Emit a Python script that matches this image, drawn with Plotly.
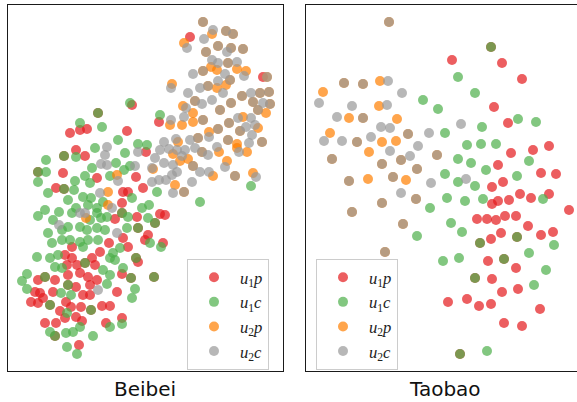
import plotly.graph_objects as go

# ---------------- data (embedding coordinates) ----------------
# Beibei panel
beibei_u1p = [(190,37),(263,77),(132,105),(70,133),(80,130),(87,129),(127,131),(159,122),(76,150),(85,156),
    (146,152),(63,173),(97,178),(136,177),(143,188),(56,188),(123,192),(128,192),(122,203),(115,219),(137,217),
    (160,214),(165,215),(145,240),(148,235),(163,243),(109,243),(123,238),(128,247),(72,247),(100,252),(65,255),
    (72,258),(92,258),(138,262),(67,265),(77,265),(95,265),(38,280),(55,280),(68,275),(80,273),(88,277),(97,280),
    (122,274),(35,292),(40,293),(31,302),(38,303),(43,298),(53,292),(66,302),(71,307),(81,307),(83,295),(90,295),
    (76,287),(90,285),(117,292),(60,311),(76,317),(82,321),(102,306),(110,306),(45,323),(56,323),(65,318),
    (106,323),(122,318),(79,345),
    (98,113),(64,156),(38,172),(64,189),(122,213),(155,223),(138,228),(136,258),(85,263),(45,277),(131,278),
    (154,277),(68,285),(50,305),(91,310),(55,336)]
beibei_u1c = [(130,103),(80,123),(102,127),(160,115),(118,140),(95,148),(138,144),(147,145),(76,157),(125,153),
    (46,160),(116,163),(130,166),(46,172),(92,168),(85,176),(110,176),(124,170),(38,182),(75,181),(90,183),
    (157,192),(74,190),(48,193),(132,198),(200,202),(251,186),(68,200),(83,197),(91,198),(103,202),(76,208),
    (88,205),(97,208),(45,210),(38,216),(59,212),(72,213),(97,213),(90,220),(101,218),(107,217),(128,217),
    (142,208),(149,205),(148,218),(53,220),(68,227),(80,227),(48,233),(62,230),(87,230),(97,228),(105,230),
    (127,228),(150,243),(161,247),(52,243),(62,240),(70,240),(80,242),(88,240),(98,240),(120,248),(83,247),
    (113,253),(37,257),(50,258),(58,255),(110,258),(115,260),(55,267),(62,268),(103,270),(123,268),(27,274),
    (22,281),(27,289),(110,275),(107,284),(135,289),(132,298),(61,293),(71,295),(67,313),(50,332),(66,333),
    (73,332),(80,327),(110,327),(122,324),(93,336),(67,347),(77,354),
    (98,113),(64,156),(38,172),(64,189),(122,213),(155,223),(138,228),(136,258),(85,263),(45,277),(131,278),
    (154,277),(68,285),(50,305),(91,310),(55,336)]
beibei_u2p = [(212,34),(184,43),(211,67),(217,70),(237,69),(246,71),(172,84),(217,88),(226,85),(183,106),
    (266,113),(193,113),(193,122),(170,125),(182,125),(243,117),(258,128),(209,132),(237,144),(178,142),
    (219,152),(237,148),(247,152),(173,154),(180,161),(188,159),(213,176),(227,161),(253,173),(175,185),
    (117,175),(108,192),(108,205),(86,218),(153,169),
    (203,22),(226,31),(233,34),(218,46),(231,48),(243,49),(206,52),(228,63),(203,71),(267,77),(230,80),
    (208,86),(242,96),(260,93),(269,92),(195,101),(220,110),(231,103),(253,102),(270,104),(258,110),(203,120),
    (229,123),(240,131),(218,129),(228,140),(262,142),(198,138),(202,152),(193,166),(235,176),(184,192)]
beibei_u2c = [(213,30),(187,48),(204,39),(227,52),(212,60),(237,62),(218,63),(193,74),(225,74),(244,76),
    (218,81),(171,88),(188,93),(200,88),(223,93),(251,93),(212,100),(186,108),(202,104),(263,103),(171,120),
    (184,117),(238,118),(251,118),(246,127),(255,125),(252,135),(209,137),(249,143),(190,140),(176,139),
    (164,142),(169,149),(177,150),(185,150),(195,148),(208,155),(217,147),(239,152),(160,150),(155,158),
    (182,156),(200,172),(209,172),(225,167),(256,177),(164,163),(173,165),(177,172),(152,168),(159,180),
    (166,180),(172,175),(173,193),(192,182),(152,182),(107,147),(105,155),(138,152),(101,164),(107,165),
    (135,166),(118,181),(100,193),(112,208),(80,213),(85,213),(59,225),(117,233),(98,290),
    (203,22),(226,31),(233,34),(218,46),(231,48),(243,49),(206,52),(228,63),(203,71),(267,77),(230,80),
    (208,86),(242,96),(260,93),(269,92),(195,101),(220,110),(231,103),(253,102),(270,104),(258,110),(203,120),
    (229,123),(240,131),(218,129),(228,140),(262,142),(198,138),(202,152),(193,166),(235,176),(184,192)]

# Taobao panel
taobao_u1p = [(452,60),(502,63),(522,79),(494,107),(508,123),(549,146),(533,150),(511,153),(498,165),(541,173),
    (556,174),(492,187),(503,182),(492,204),(498,201),(509,200),(520,194),(531,198),(549,194),(569,210),
    (477,219),(487,219),(496,220),(505,216),(516,216),(528,226),(491,239),(501,233),(541,235),(553,232),
    (488,261),(516,268),(492,279),(502,292),(518,289),(448,302),(467,299),(479,306),(491,304),(540,309),
    (504,323),(522,326),
    (491,47),(480,243),(517,237),(504,259),(475,278),(460,354)]
taobao_u1c = [(458,77),(475,93),(423,100),(438,109),(518,119),(536,122),(482,127),(445,133),(467,145),(481,144),
    (496,144),(458,159),(471,163),(529,161),(486,170),(517,176),(445,174),(458,182),(475,186),(430,208),
    (447,198),(465,201),(483,199),(543,199),(417,236),(451,223),(462,232),(554,245),(443,261),(459,258),
    (529,253),(546,270),(534,285),(487,351),
    (491,47),(480,243),(517,237),(504,259),(475,278),(460,354)]
taobao_u2p = [(380,81),(323,92),(379,106),(349,118),(397,119),(330,133),(382,142),(396,141),(369,152),(368,179),
    (406,180),
    (389,22),(344,83),(363,84),(363,118),(357,142),(408,134),(332,159),(382,164),(401,160),(437,155),(349,181),
    (393,177),(417,169),(416,199),(382,203),(352,212),(403,224),(385,252)]
taobao_u2c = [(388,81),(402,93),(319,103),(352,106),(387,105),(337,117),(381,127),(390,128),(461,124),(324,141),
    (342,141),(371,137),(429,133),(418,146),(390,151),(410,156),(431,183),(466,179),(401,193),
    (389,22),(344,83),(363,84),(363,118),(357,142),(408,134),(332,159),(382,164),(401,160),(437,155),(349,181),
    (393,177),(417,169),(416,199),(382,203),(352,212),(403,224),(385,252)]

series_names = ["<i>u</i><sub>1</sub><i>p</i>", "<i>u</i><sub>1</sub><i>c</i>",
                "<i>u</i><sub>2</sub><i>p</i>", "<i>u</i><sub>2</sub><i>c</i>"]
series_colors = ["#e41a1c", "#4daf4a", "#ff7f00", "#999999"]
panel_titles = ["Beibei", "Taobao"]

# ---------------- figure ----------------
W, H = 577, 402
ML, MT, MB = 8, 5, 31
PW = W - ML
PH = H - MT - MB
fig = go.Figure()

panels = [
    ([beibei_u1p, beibei_u1c, beibei_u2p, beibei_u2c], "x", "y", "legend"),
    ([taobao_u1p, taobao_u1c, taobao_u2p, taobao_u2c], "x2", "y2", "legend2"),
]
for series, xa, ya, lg in panels:
    for pts, name, col in zip(series, series_names, series_colors):
        fig.add_trace(go.Scatter(
            x=[p[0] for p in pts], y=[p[1] for p in pts], mode="markers", name=name,
            xaxis=xa, yaxis=ya, legend=lg,
            marker=dict(size=10, color=col, opacity=0.7, line=dict(width=0)),
        ))

axis_common = dict(showgrid=False, zeroline=False, showticklabels=False, ticks="",
                   showline=True, linecolor="#1a1a1a", linewidth=1.2)

x1_dom = [0, 275 / PW]
x2_dom = [298 / PW, 1]
legend_style = dict(xanchor="left", yanchor="top",
                    bgcolor="rgba(255,255,255,0.8)", bordercolor="#cccccc", borderwidth=1,
                    font=dict(family="Liberation Serif", size=16.6, color="#222"),
                    itemwidth=42, tracegroupgap=0)
fig.update_layout(
    width=W, height=H, margin=dict(l=ML, r=0, t=MT, b=MB, autoexpand=False),
    paper_bgcolor="white", plot_bgcolor="white",
    xaxis=dict(domain=x1_dom, range=[8, 283], mirror=True, anchor="y", **axis_common),
    yaxis=dict(domain=[0, 1], range=[371, 5], mirror=True, anchor="x", **axis_common),
    xaxis2=dict(domain=x2_dom, range=[306, 577], mirror=True, anchor="y2", **axis_common),
    yaxis2=dict(domain=[0, 1], range=[371, 5], mirror=False, anchor="x2", **axis_common),
    legend=dict(x=(187 - ML) / PW, y=1 - (259 - MT) / PH, **legend_style),
    legend2=dict(x=(316 - ML) / PW, y=1 - (259 - MT) / PH, **legend_style),
    showlegend=True,
)

title_x = [(145 - ML) / PW, (445 - ML) / PW]
for t, tx in zip(panel_titles, title_x):
    fig.add_annotation(text=t, x=tx, y=1 - (389 - MT) / PH, xref="paper", yref="paper",
                       xanchor="center", yanchor="middle", showarrow=False,
                       font=dict(family="DejaVu Sans", size=20, color="#111"))

fig.write_html("out.html", config={"displayModeBar": False},
               post_script="document.body.style.margin='0px';")
